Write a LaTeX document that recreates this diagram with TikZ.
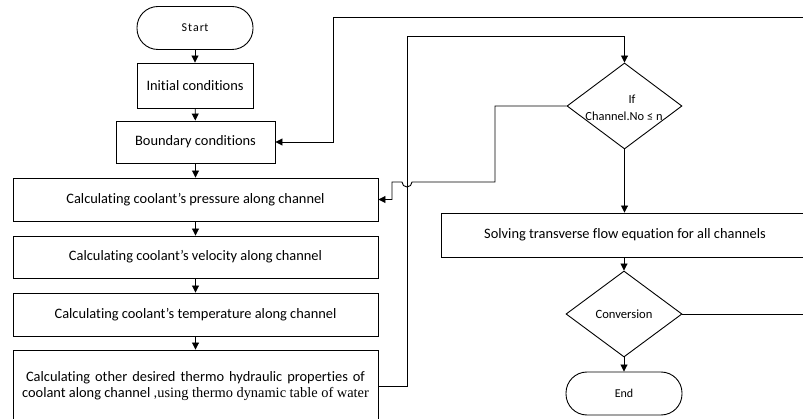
\documentclass[tikz,border=0pt]{standalone}
\usepackage{fontspec}
\setmainfont{Carlito}[Ligatures=NoCommon]
\newfontfamily\serifpart{Liberation Serif}
\usetikzlibrary{arrows.meta,shapes.geometric}
\tikzset{
  box/.style={draw, line width=0.9pt, inner sep=0pt, align=center, font=\fontsize{14.4}{15.5}\selectfont},
  term/.style={box, rounded corners=21pt, font=\fontsize{12}{14}\selectfont},
  dec/.style={draw, line width=0.9pt, diamond, inner sep=0pt, align=center, font=\fontsize{12.6}{15}\selectfont},
  flow/.style={line width=0.9pt, -{Triangle[width=7pt,length=7pt]}},
  wire/.style={line width=0.9pt}
}
\begin{document}
\begin{tikzpicture}[x=1pt,y=-1pt]
\useasboundingbox (0,0) rectangle (803,419);
\clip (0,0) rectangle (803,419);
\node[term, minimum width=116pt, minimum height=43pt] (start) at (195,28) {S\hspace{1pt}t\hspace{1pt}a\hspace{1pt}r\hspace{0.5pt}t};
\node[box, minimum width=116pt, minimum height=45pt] (init) at (195,85.5) {Initial conditions};
\node[box, minimum width=159pt, minimum height=42pt] (bound) at (195.5,142) {Boundary conditions};
\node[box, minimum width=365pt, minimum height=43pt] (press) at (195.5,199.5) {Calculating coolant’s pressure along channel};
\node[box, minimum width=365pt, minimum height=42pt] (velo) at (195.5,257) {Calculating coolant’s velocity along channel};
\node[box, minimum width=365pt, minimum height=43pt] (temp) at (195.5,314.5) {Calculating coolant’s temperature along channel};
\node[box, minimum width=365pt, minimum height=72pt] (other) at (195.5,386) {{\spaceskip=5pt Calculating other desired thermo hydraulic properties of}\\coolant along channel ,{\serifpart using thermo dynamic table of water}};
\node[dec, minimum width=115pt, minimum height=86pt] (ifd) at (624.5,106) {};
\node[font=\fontsize{12.4}{17}\selectfont, align=center] (ift) at (624,108) {\hspace{16pt}If\\Channel.No ≤ n};
\node[box, minimum width=368pt, minimum height=44pt] (solve) at (625,235) {Solving transverse flow equation for all channels};
\node[dec, minimum width=116pt, minimum height=86pt] (conv) at (624,314) {Conversion};
\node[term, minimum width=116pt, minimum height=43pt] (endn) at (624,393.5) {End};
\coordinate (topr) at (810,17);
\coordinate (convr) at (810,314);
\draw[flow] (start) -- (init);
\draw[flow] (init) -- (bound);
\draw[flow] (bound) -- (press);
\draw[flow] (press) -- (velo);
\draw[flow] (velo) -- (temp);
\draw[flow] (temp) -- (other);
\draw[flow] (topr) -- (333,17) -- (333,142) -- (bound.east);
\draw[flow] (other.east) -- (407,386) -- (407,36) -- (624.5,36) -- (ifd.north);
\draw[flow] (ifd.west) -- (495,106) -- (495,182) -- (412,182) arc[start angle=0, end angle=180, radius=5] -- (392,182) -- (392,199.5) -- (press.east);
\draw[flow] (ifd.south) -- (ifd.south |- solve.north);
\draw[flow] (solve.south -| conv.north) -- (conv.north);
\draw[flow] (conv.south) -- (endn.north);
\draw[wire] (conv.east) -- (convr);
\end{tikzpicture}
\end{document}
